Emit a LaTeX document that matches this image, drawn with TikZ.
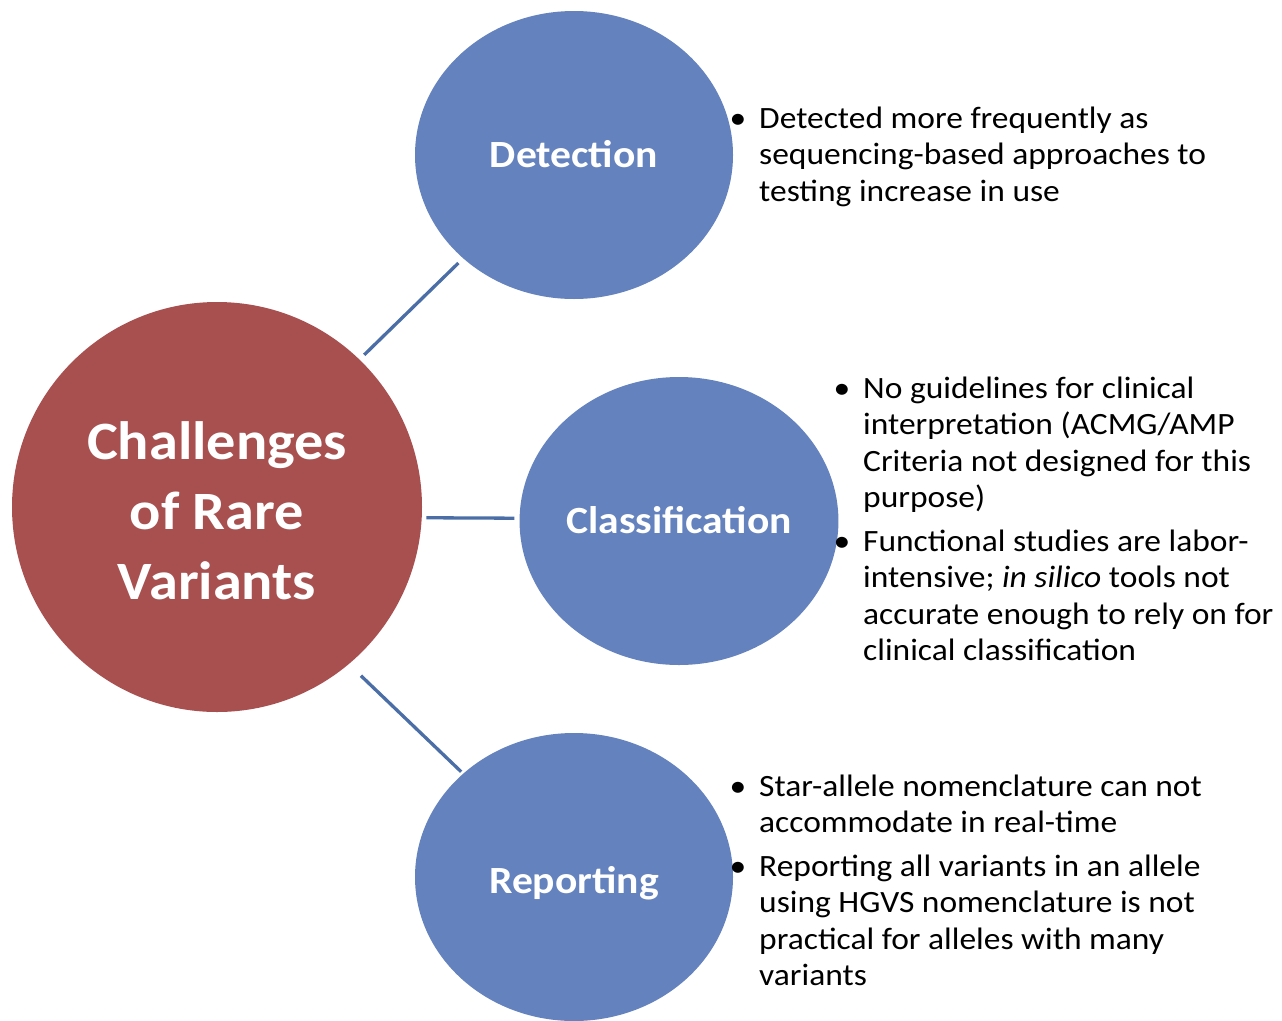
\documentclass[tikz,border=0pt]{standalone}
\usepackage{fontspec}
\setmainfont{Carlito}[FakeStretch=1.08]
\usetikzlibrary{shapes.geometric}
\definecolor{hubred}{RGB}{168,80,79}
\definecolor{topicblue}{RGB}{100,130,189}
\definecolor{connblue}{RGB}{74,110,165}
\begin{document}
\begin{tikzpicture}[x=1pt,y=-1pt,
  hub/.style={circle, fill=hubred, minimum size=410pt, inner sep=0pt, text=white,
    font=\fontsize{54}{70}\selectfont\bfseries, align=center},
  topic/.style={ellipse, fill=topicblue, minimum width=318pt, minimum height=288pt,
    inner sep=0pt, text=white, font=\fontsize{38.5}{46}\selectfont\bfseries,
    text height=25pt, text depth=0pt},
  conn/.style={draw=connblue, line width=3.3pt},
  bul/.style={anchor=base, inner sep=0pt, font=\fontsize{31}{36.5}\selectfont},
  itemtext/.style={anchor=base west, inner sep=0pt, font=\fontsize{31}{36.5}\selectfont}]
\useasboundingbox (0,0) rectangle (1282,1020);

\node[hub] (hub) at (217,507) {\rule{0pt}{46pt}Challenges\\of Rare\\Variants};
\node[topic] (det) at (574,155) {Detection};
\node[topic] (cls) at (679,521) {Classification};
\node[topic, text height=32pt] (rep) at (574,877) {Reporting};

\draw[conn, shorten <=6.5pt, shorten >=6.5pt] (hub.46.7) -- (det.223.5);
\draw[conn, shorten <=4.4pt, shorten >=5pt] (hub.-3.6) -- (cls.179.6);
\draw[conn, shorten <=16.6pt, shorten >=2.7pt] (hub.-50.5) -- (rep.137.6);

% Detection
\node[bul] (b1) at (738,128) {\textbullet};
\node[itemtext] (t1) at (759,128) {\parbox[t]{520pt}{\raggedright
  Detected more frequently as\\sequencing-based approaches to\\testing increase in use}};

% Classification
\node[bul] (b2) at (842,398) {\textbullet};
\node[itemtext] (t2) at (863,398) {\parbox[t]{420pt}{\raggedright
  No guidelines for clinical\\interpretation (ACMG/AMP\\Criteria not designed for this\\purpose)}};
\node[bul] (b3) at (842,551) {\textbullet};
\node[itemtext] (t3) at (863,551) {\parbox[t]{420pt}{\raggedright
  Functional studies are labor-\\intensive; \textit{in silico} tools not\\accurate enough to rely on for\\clinical classification}};

% Reporting
\node[bul] (b4) at (738,796) {\textbullet};
\node[itemtext] (t4) at (759,796) {\parbox[t]{520pt}{\raggedright
  Star-allele nomenclature can not\\accommodate in real-time}};
\node[bul] (b5) at (738,876) {\textbullet};
\node[itemtext] (t5) at (759,876) {\parbox[t]{520pt}{\raggedright
  Reporting all variants in an allele\\using HGVS nomenclature is not\\practical for alleles with many\\variants}};
\end{tikzpicture}
\end{document}
